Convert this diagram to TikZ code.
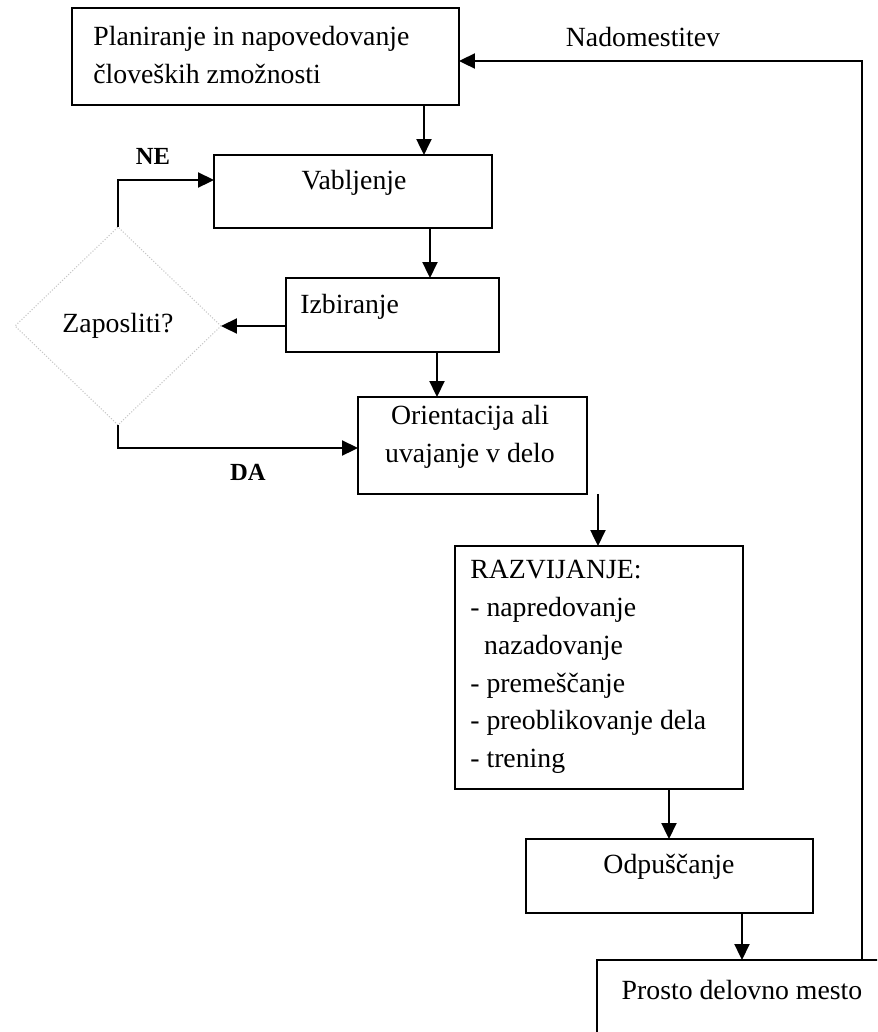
\documentclass[tikz,border=0pt]{standalone}
\usepackage{fontspec}
\setmainfont{Liberation Serif}
\usetikzlibrary{arrows.meta,shapes.geometric}
\begin{document}
\begin{tikzpicture}[x=0.02cm,y=-0.02cm,
  font=\fontsize{15.8}{21.5}\selectfont,
  box/.style={draw,line width=1.2pt,rectangle,inner sep=0pt,outer sep=0pt},
  arr/.style={line width=1.2pt,-{Triangle[length=0.32cm,width=0.3cm]}},
  txt/.style={inner sep=0pt,align=left},
  lbl/.style={inner sep=0pt,font=\fontsize{14}{17}\selectfont\bfseries}]
\path[use as bounding box,clip] (0,0) rectangle (877,1032);
\fill[white] (0,0) rectangle (877,1032);
% boxes
\node[box,minimum width=7.74cm,minimum height=1.94cm] (b1) at (265.5,56.5) {};
\node[box,minimum width=5.56cm,minimum height=1.46cm] (b2) at (353,191.5) {};
\node[box,minimum width=4.26cm,minimum height=1.48cm] (b3) at (392.5,315) {};
\node[box,minimum width=4.58cm,minimum height=1.94cm] (b4) at (472.5,445.5) {};
\node[box,minimum width=5.76cm,minimum height=4.86cm] (b5) at (599,667.5) {};
\node[box,minimum width=5.74cm,minimum height=1.48cm] (b6) at (669.5,876) {};
\node[box,minimum width=6.06cm,minimum height=1.8cm] (b7) at (748.5,1005) {};
\node[diamond,draw=gray!45,densely dotted,line width=0.6pt,minimum width=4.12cm,minimum height=3.96cm,inner sep=0pt,outer sep=0pt] (d) at (118,326) {};
% texts
\node[txt,anchor=west] (t1) at (93,55) {Planiranje in napovedovanje\\človeških zmožnosti};
\node[txt] (t2) at (354,183) {Vabljenje};
\node[txt,anchor=west] (t3) at (300,307) {Izbiranje};
\node[txt] (td) at (118,326) {Zaposliti?};
\node[txt,align=center] (t4) at (470,437) {Orientacija ali\\uvajanje v delo};
\node[txt,anchor=west] (t5) at (470,667) {RAZVIJANJE:\\- napredovanje\\\hspace{0.5em}nazadovanje\\- premeščanje\\- preoblikovanje dela\\- trening};
\node[txt] (t6) at (669,867) {Odpuščanje};
\node[txt] (t7) at (742,990) {Prosto delovno mesto};
% labels
\node[lbl] (ne) at (153,156) {NE};
\node[lbl] (da) at (248,472) {DA};
\node[txt] (nad) at (643,37) {Nadomestitev};
% connectors
\draw[arr] ([xshift=7.04cm]b1.south west) -- ([xshift=7.04cm]b1.south west |- b2.north);
\draw[arr] ([xshift=4.32cm]b2.south west) -- ([xshift=4.32cm]b2.south west |- b3.north);
\draw[arr] ([xshift=3.02cm]b3.south west) -- ([xshift=3.02cm]b3.south west |- b4.north);
\draw[arr] ([xshift=4.8cm]b4.south west) -- ([xshift=4.8cm]b4.south west |- b5.north);
\draw[arr] ([xshift=4.28cm]b5.south west) -- ([xshift=4.28cm]b5.south west |- b6.north);
\draw[arr] ([xshift=4.32cm]b6.south west) -- ([xshift=4.32cm]b6.south west |- b7.north);
\draw[arr] (b3.west |- d.east) -- (d.east);
\draw[arr] (d.north) |- ([yshift=0.23cm]b2.west);
\draw[arr] (d.south) |- ([yshift=-0.05cm]b4.west);
\draw[arr] ([xshift=5.3cm]b7.north west) |- ([yshift=-0.09cm]b1.east);
\end{tikzpicture}
\end{document}
